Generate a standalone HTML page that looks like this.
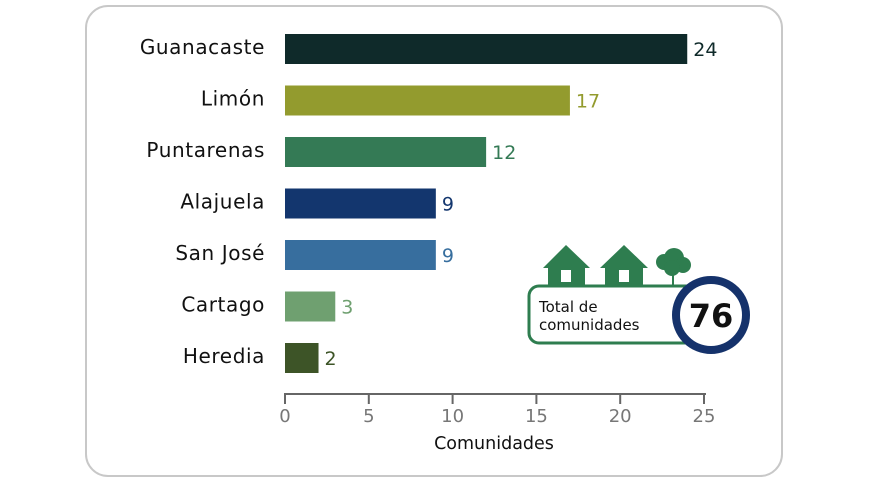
<!DOCTYPE html>
<html><head><meta charset="utf-8"><style>
body{margin:0;background:#fff;font-family:"Liberation Sans",sans-serif}
svg text{font-family:"DejaVu Sans","Liberation Sans",sans-serif}
</style></head><body>
<svg width="874" height="484" viewBox="0 0 874 484">
<rect x="86" y="6" width="696" height="470" rx="22" fill="#fff" stroke="#c8c8c8" stroke-width="2"/>
<g id="bars"></g>
<g id="axis"></g>
<text x="494" y="449" text-anchor="middle" font-size="17.5" fill="#111">Comunidades</text>
<g>
<g fill="#2e7d4f">
<polygon points="543,268 566,245 590,268 585,268 585,285 548,285 548,268"/>
<polygon points="600,268 624,245 648,268 643,268 643,285 605,285 605,268"/>
<rect x="561" y="270" width="10" height="12" fill="#fff"/>
<rect x="619" y="270" width="10" height="12" fill="#fff"/>
<circle cx="664" cy="262" r="8"/><circle cx="674" cy="258" r="10"/><circle cx="683" cy="265" r="8"/><circle cx="672" cy="268" r="8"/>
<rect x="672" y="268" width="2" height="17"/>
</g>
<rect x="529" y="286" width="176" height="57" rx="10" fill="#fff" stroke="#2e7d4f" stroke-width="3"/>
<text x="539" y="312" font-size="15" fill="#111">Total de</text>
<text x="539" y="330" font-size="15" fill="#111">comunidades</text>
<circle cx="711" cy="315" r="35" fill="#fff" stroke="#15326b" stroke-width="8"/>
<text x="711" y="327" text-anchor="middle" font-size="32" font-weight="bold" fill="#111">76</text>
</g>
</svg>
<script>
const categories=["Guanacaste","Limón","Puntarenas","Alajuela","San José","Cartago","Heredia"];
const values=[24,17,12,9,9,3,2];
const colors=["#0f2a2a","#939b2e","#347a55","#13366e","#376e9e","#6fa070","#3d5427"];
const ticks=[0,5,10,15,20,25];
const NS="http://www.w3.org/2000/svg";
const x=v=>285+v*(419/25);
const y=i=>34+i*51.5;
function mk(t,a,p){const e=document.createElementNS(NS,t);for(const k in a)e.setAttribute(k,a[k]);p.appendChild(e);return e;}
const bars=document.getElementById('bars'),axis=document.getElementById('axis');
categories.forEach((c,i)=>{
 const r=mk('rect',{x:x(0),y:y(i),width:x(values[i])-x(0),height:30,fill:colors[i]},bars);
 
 
 const l=mk('text',{x:265,y:y(i)+20,'text-anchor':'end','font-size':20,'letter-spacing':0.6,fill:'#111'},bars);l.textContent=c;
 
 
 const v=mk('text',{x:x(values[i])+6,y:y(i)+22,'font-size':19,fill:colors[i]},bars);v.textContent=values[i];
 
 
});
const al=mk('line',{x1:x(0),x2:x(25)+2,y1:394,y2:394,stroke:'#666','stroke-width':2},axis);


ticks.forEach(t=>{
 const tk=mk('line',{x1:x(t),x2:x(t),y1:393,y2:404,stroke:'#666','stroke-width':2},axis);
 
 
 const tl=mk('text',{x:x(t),y:422,'text-anchor':'middle','font-size':18,fill:'#777'},axis);tl.textContent=t;
 
 
});
</script>
</body></html>
